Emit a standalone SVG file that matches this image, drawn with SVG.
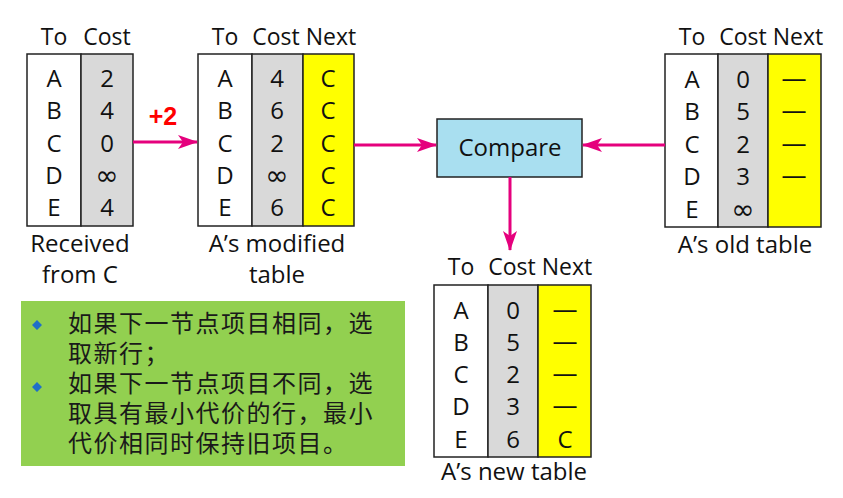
<svg xmlns="http://www.w3.org/2000/svg" width="843" height="498" viewBox="0 0 843 498">
<defs>
<style>
.t{font-family:"Open Sans","Noto Sans",sans-serif;font-size:24px;fill:#111;text-anchor:middle}
.h{font-size:23px}
.inf{font-family:"DejaVu Sans",sans-serif;font-size:28px}
.box{stroke:#222;stroke-width:1.5}
.w{fill:#fff}.g{fill:#d9d9d9}.y{fill:#ffff00}
.cn{font-family:"Noto Sans CJK SC","Noto Sans CJK TC",sans-serif;font-size:24px;letter-spacing:1.5px;fill:#1a1a1a}
.ar{stroke:#e5007d;stroke-width:3;fill:none}
</style>
<marker id="ah" viewBox="0 0 20 14" refX="19" refY="7" markerWidth="20" markerHeight="14" markerUnits="userSpaceOnUse" orient="auto">
<path d="M0,0 L20,7 L0,14 L5,7 Z" fill="#e5007d"/>
</marker>
</defs>
<rect width="843" height="498" fill="#fff"/>

<g id="received">
<rect class="box w" x="27" y="54" width="54" height="172"/>
<rect class="box g" x="81" y="54" width="52" height="172"/>
<text class="t h" x="54" y="45">To</text><text class="t h" x="107" y="45">Cost</text>
<text class="t" x="54" y="87">A</text><text class="t" x="54" y="119">B</text><text class="t" x="54" y="152">C</text><text class="t" x="54" y="184">D</text><text class="t" x="54" y="216">E</text>
<text class="t" x="107" y="87">2</text><text class="t" x="107" y="119">4</text><text class="t" x="107" y="152">0</text><text class="t inf" x="107" y="185">∞</text><text class="t" x="107" y="216">4</text>
<text class="t" x="80" y="252">Received</text><text class="t" x="80" y="283">from C</text>
</g>

<g id="modified">
<rect class="box w" x="198" y="54" width="54" height="172"/>
<rect class="box g" x="252" y="54" width="51" height="172"/>
<rect class="box y" x="303" y="54" width="51" height="172"/>
<text class="t h" x="225" y="45">To</text><text class="t h" x="276" y="45">Cost</text><text class="t h" x="331" y="45">Next</text>
<text class="t" x="225" y="87">A</text><text class="t" x="225" y="119">B</text><text class="t" x="225" y="152">C</text><text class="t" x="225" y="184">D</text><text class="t" x="225" y="216">E</text>
<text class="t" x="277" y="87">4</text><text class="t" x="277" y="119">6</text><text class="t" x="277" y="152">2</text><text class="t inf" x="277" y="185">∞</text><text class="t" x="277" y="216">6</text>
<text class="t" x="328" y="87">C</text><text class="t" x="328" y="119">C</text><text class="t" x="328" y="152">C</text><text class="t" x="328" y="184">C</text><text class="t" x="328" y="216">C</text>
<text class="t" x="277" y="252">A’s modified</text><text class="t" x="277" y="283">table</text>
</g>

<g id="compare">
<rect class="box" x="437" y="119" width="145" height="58" fill="#a9dff0"/>
<text class="t" x="510" y="156">Compare</text>
</g>

<g id="old">
<rect class="box w" x="665" y="54" width="53" height="173"/>
<rect class="box g" x="718" y="54" width="50" height="173"/>
<rect class="box y" x="768" y="54" width="53" height="173"/>
<text class="t h" x="692" y="45">To</text><text class="t h" x="743" y="45">Cost</text><text class="t h" x="798" y="45">Next</text>
<text class="t" x="692" y="88">A</text><text class="t" x="692" y="120">B</text><text class="t" x="692" y="153">C</text><text class="t" x="692" y="185">D</text><text class="t" x="692" y="218">E</text>
<text class="t" x="743" y="88">0</text><text class="t" x="743" y="120">5</text><text class="t" x="743" y="153">2</text><text class="t" x="743" y="185">3</text><text class="t inf" x="743" y="219">∞</text>
<text class="t" x="794" y="87" textLength="25" lengthAdjust="spacingAndGlyphs">—</text><text class="t" x="794" y="119" textLength="25" lengthAdjust="spacingAndGlyphs">—</text><text class="t" x="794" y="152" textLength="25" lengthAdjust="spacingAndGlyphs">—</text><text class="t" x="794" y="184" textLength="25" lengthAdjust="spacingAndGlyphs">—</text>
<text class="t" x="745" y="253">A’s old table</text>
</g>

<g id="new">
<rect class="box w" x="434" y="285" width="54" height="172"/>
<rect class="box g" x="488" y="285" width="50" height="172"/>
<rect class="box y" x="538" y="285" width="53" height="172"/>
<text class="t h" x="461" y="275">To</text><text class="t h" x="512" y="275">Cost</text><text class="t h" x="567" y="275">Next</text>
<text class="t" x="461" y="319">A</text><text class="t" x="461" y="351">B</text><text class="t" x="461" y="383">C</text><text class="t" x="461" y="415">D</text><text class="t" x="461" y="448">E</text>
<text class="t" x="513" y="319">0</text><text class="t" x="513" y="351">5</text><text class="t" x="513" y="383">2</text><text class="t" x="513" y="415">3</text><text class="t" x="513" y="448">6</text>
<text class="t" x="565" y="318" textLength="25" lengthAdjust="spacingAndGlyphs">—</text><text class="t" x="565" y="350" textLength="25" lengthAdjust="spacingAndGlyphs">—</text><text class="t" x="565" y="382" textLength="25" lengthAdjust="spacingAndGlyphs">—</text><text class="t" x="565" y="414" textLength="25" lengthAdjust="spacingAndGlyphs">—</text><text class="t" x="565" y="448">C</text>
<text class="t" x="514" y="480">A’s new table</text>
</g>

<g id="note">
<rect x="21" y="301" width="384" height="165" fill="#92d050"/>
<path d="M37,320 L42,325 L37,330 L32,325 Z M37,382 L42,387 L37,392 L32,387 Z" fill="#1f6fc8"/>
<text class="cn" x="68" y="332">如果下一节点项目相同，选</text>
<text class="cn" x="68" y="362">取新行；</text>
<text class="cn" x="68" y="392">如果下一节点项目不同，选</text>
<text class="cn" x="68" y="422">取具有最小代价的行，最小</text>
<text class="cn" x="68" y="452">代价相同时保持旧项目。</text>
</g>

<g id="connectors">
<line class="ar" x1="133" y1="142" x2="197" y2="142" marker-end="url(#ah)"/>
<text x="163" y="125" font-family="'Liberation Sans',Arial,sans-serif" font-size="25" font-weight="bold" fill="#ff0000" text-anchor="middle">+2</text>
<line class="ar" x1="354" y1="145" x2="436" y2="145" marker-end="url(#ah)"/>
<line class="ar" x1="665" y1="145" x2="583" y2="145" marker-end="url(#ah)"/>
<line class="ar" x1="510" y1="177" x2="510" y2="250" marker-end="url(#ah)"/>
</g>
</svg>
